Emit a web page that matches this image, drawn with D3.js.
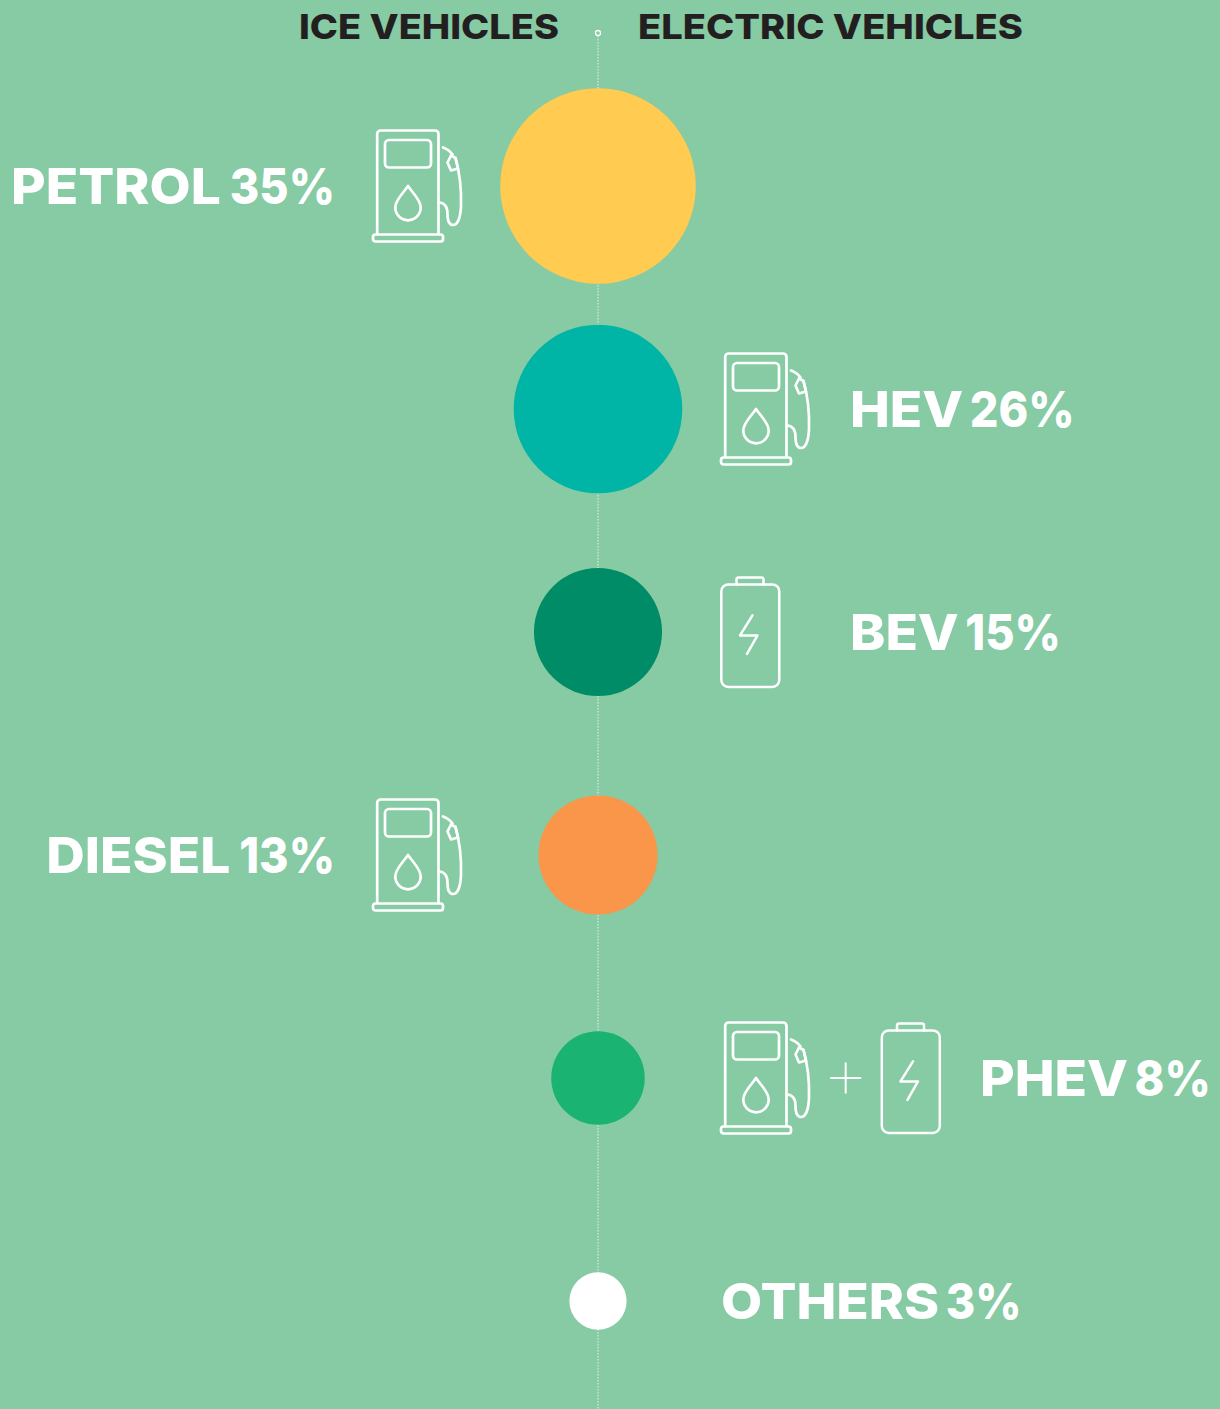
<!DOCTYPE html>
<html><head><meta charset="utf-8">
<script src="https://cdnjs.cloudflare.com/ajax/libs/d3/7.8.5/d3.min.js"></script>
<style>html,body{margin:0;padding:0;background:#86CBA4}svg{display:block}text{font-family:Inter,sans-serif}</style>
</head><body>
<svg id="c" width="1220" height="1409"></svg>
<script>
const categories = ["PETROL","HEV","BEV","DIESEL","PHEV","OTHERS"];
const shares = [35,26,15,13,8,3];
const colours = ["#FFCB50","#00B5A5","#008C66","#F9964A","#1AB371","#FFFFFF"];
const sides = ["ice","ev","ev","ice","ev","ev"];
const icons = [["pump"],["pump"],["battery"],["pump"],["pump","battery"],[]];
const headers = ["ICE VEHICLES","ELECTRIC VEHICLES"];

const svg = d3.select("#c");
const W=1220,H=1409,cx=598,white="#fff";
const y = d3.scalePoint().domain(categories).range([186,1301]);
const r = d3.scaleSqrt().domain([0,35]).range([0,97.8]);

svg.append("rect").attr("width",W).attr("height",H).attr("fill","#86CBA4");
svg.append("line").attr("x1",cx).attr("x2",cx).attr("y1",36).attr("y2",H)
  .attr("stroke","#e4f3ea").attr("stroke-width",1).attr("stroke-dasharray","1.5 1.5");
svg.append("circle").attr("cx",cx).attr("cy",33).attr("r",2.5).attr("fill","#86CBA4").attr("stroke",white).attr("stroke-width",1.3);

svg.selectAll("text.h").data(headers).join("text").attr("class","h")
  .attr("x",(d,i)=>i?638:299).attr("y",39).attr("text-anchor","start")
  .attr("font-size",34.5).attr("font-weight",800).attr("fill","#231F20")
  .attr("textLength",(d,i)=>i?385:260).attr("lengthAdjust","spacingAndGlyphs").text(d=>d);

svg.selectAll("circle.m").data(categories).join("circle").attr("class","m")
  .attr("cx",cx).attr("cy",d=>y(d)).attr("r",(d,i)=>r(shares[i])).attr("fill",(d,i)=>colours[i]);

function pump(g){
  const s=g.append("g").attr("fill","none").attr("stroke",white).attr("stroke-width",2.7).attr("stroke-linejoin","round").attr("stroke-linecap","round");
  s.append("path").attr("d","M4.7 103V4a3.5 3.5 0 0 1 3.5-3.5H62.5a3.5 3.5 0 0 1 3.5 3.5V103");
  s.append("rect").attr("x",0.5).attr("y",104.5).attr("width",70).attr("height",7).attr("rx",2.5);
  s.append("rect").attr("x",12.5).attr("y",10).attr("width",46).attr("height",27.5).attr("rx",4);
  s.append("path").attr("d","M35.5 56C31 63 22.8 69.5 22.8 77.6A12.7 12.7 0 0 0 48.2 77.6C48.2 69.5 40 63 35.5 56Z");
  s.append("path").attr("d","M70.5 17.5C74.5 19 78 21.5 80 24.5M78.5 25.5L75 32.5L78.5 40.5L85.5 38.5L83 28L78.5 25.5Z");
  s.append("path").attr("d","M83 28C87 42 89 60 88.5 76C88 88 85 95 80.5 95C76 95 75 90 75 84C75 77 73 73 66.5 72.5");
}
function battery(g){
  const s=g.append("g").attr("fill","none").attr("stroke",white).attr("stroke-width",2.5).attr("stroke-linejoin","round").attr("stroke-linecap","round");
  s.append("rect").attr("x",0.3).attr("y",8).attr("width",58).attr("height",102.5).attr("rx",7);
  s.append("path").attr("d","M15.5 8V3A2 2 0 0 1 17.5 1H40.5A2 2 0 0 1 42.5 3V8");
  s.append("path").attr("d","M31.5 39L19 59H36.5L26 77.5");
}
function plus(g){
  g.append("path").attr("d","M-15.5 0H15.5M0 -15.5V15.5").attr("stroke",white).attr("stroke-width",2).attr("fill","none");
}
function label(word,value,x,yy,anchor){
  const make=t=>svg.append("text").attr("y",yy+18).attr("font-size",50).attr("font-weight",800).attr("fill",white).text(t);
  const a=make(word), b=make(value);
  const la=a.node().getComputedTextLength()*1.065, lb=b.node().getComputedTextLength()*0.9, gap=anchor==="end"?9:6.5;
  const x0=anchor==="end"?x-(la+gap+lb):x;
  a.attr("x",x0).attr("textLength",la).attr("lengthAdjust","spacingAndGlyphs");
  b.attr("x",x0+la+gap).attr("textLength",lb).attr("lengthAdjust","spacingAndGlyphs");
}

categories.forEach((c,i)=>{
  const yy=y(c), iconList=icons[i];
  let anchorX, textAnchor;
  if(sides[i]==="ice"){ anchorX=335; textAnchor="end";
    pump(svg.append("g").attr("transform",`translate(372.5,${yy-56})`));
  } else {
    textAnchor="start";
    if(iconList.length===0) anchorX=721;
    else if(iconList.length===2){ anchorX=980;
      pump(svg.append("g").attr("transform",`translate(720.5,${yy-56})`));
      plus(svg.append("g").attr("transform",`translate(845.7,${yy})`));
      battery(svg.append("g").attr("transform",`translate(881.5,${yy-55.6})`));
    } else { anchorX=850;
      if(iconList[0]==="pump") pump(svg.append("g").attr("transform",`translate(720.5,${yy-56})`));
      else battery(svg.append("g").attr("transform",`translate(721,${yy-55.6})`));
    }
  }
  label(c,shares[i]+"%",anchorX,yy,textAnchor);
});
</script>
</body></html>
